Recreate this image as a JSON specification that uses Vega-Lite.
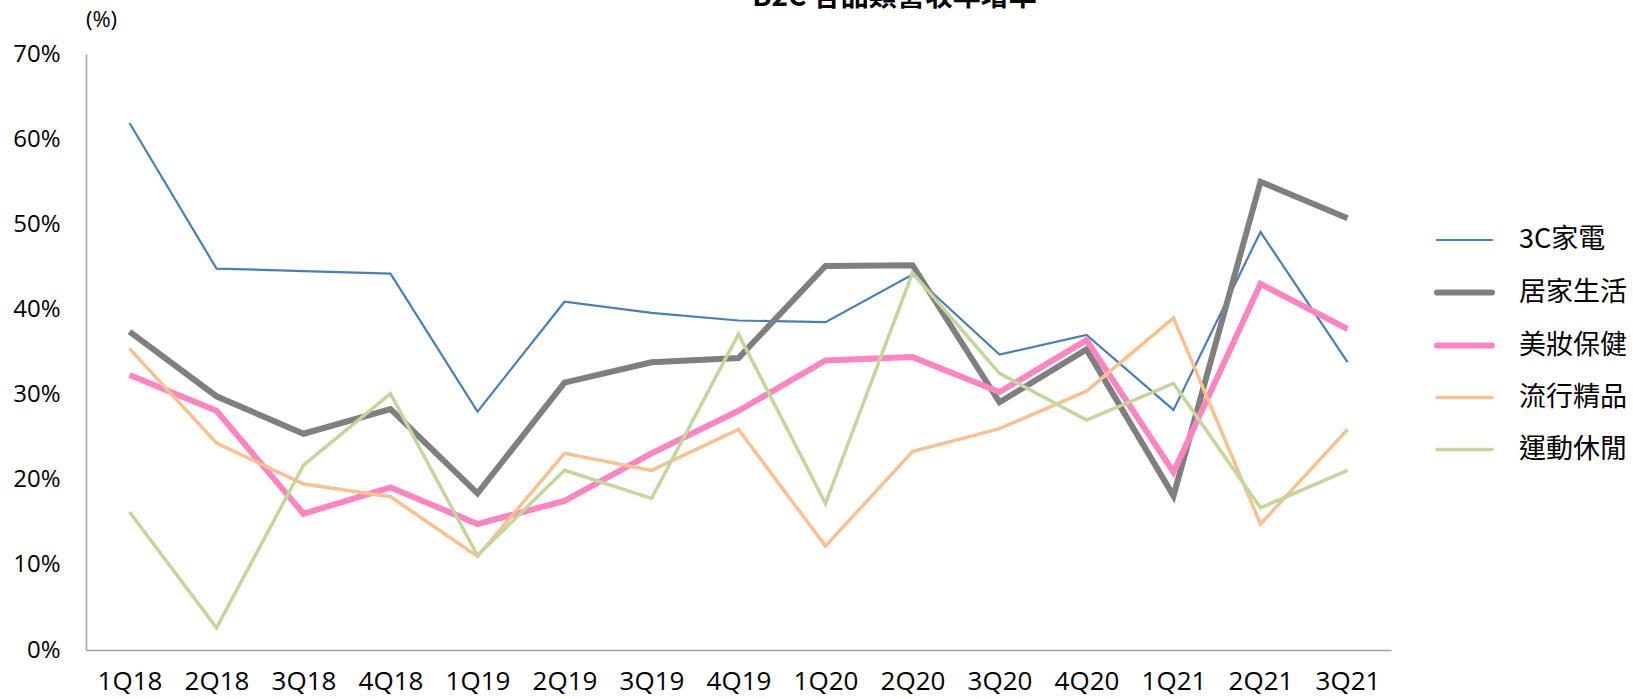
{
  "$schema": "https://vega.github.io/schema/vega-lite/v6.json",
  "autosize": {"type": "none"},
  "width": 1305,
  "height": 596,
  "padding": {"left": 86, "top": 54, "right": 242, "bottom": 49},
  "background": "white",
  "title": {
    "text": "B2C 各品類營收年增率",
    "font": "Noto Sans CJK TC",
    "fontSize": 28,
    "fontWeight": "bold",
    "color": "#000000",
    "anchor": "middle",
    "frame": "group",
    "baseline": "alphabetic",
    "offset": -26,
    "dx": 156
  },
  "config": {
    "view": {"stroke": null},
    "axis": {"grid": false, "ticks": false, "domainColor": "#A0A0A0", "domainWidth": 1.5, "labelColor": "#000000", "labelFont": "Open Sans"}
  },
  "data": {
    "values": [
      {"q": "1Q18", "s": "3C家電", "v": 61.9}, {"q": "2Q18", "s": "3C家電", "v": 44.8}, {"q": "3Q18", "s": "3C家電", "v": 44.5}, {"q": "4Q18", "s": "3C家電", "v": 44.2}, {"q": "1Q19", "s": "3C家電", "v": 28.0}, {"q": "2Q19", "s": "3C家電", "v": 40.9}, {"q": "3Q19", "s": "3C家電", "v": 39.6}, {"q": "4Q19", "s": "3C家電", "v": 38.7}, {"q": "1Q20", "s": "3C家電", "v": 38.5}, {"q": "2Q20", "s": "3C家電", "v": 44.1}, {"q": "3Q20", "s": "3C家電", "v": 34.7}, {"q": "4Q20", "s": "3C家電", "v": 37.0}, {"q": "1Q21", "s": "3C家電", "v": 28.2}, {"q": "2Q21", "s": "3C家電", "v": 49.1}, {"q": "3Q21", "s": "3C家電", "v": 33.8},
      {"q": "1Q18", "s": "居家生活", "v": 37.4}, {"q": "2Q18", "s": "居家生活", "v": 29.8}, {"q": "3Q18", "s": "居家生活", "v": 25.4}, {"q": "4Q18", "s": "居家生活", "v": 28.3}, {"q": "1Q19", "s": "居家生活", "v": 18.4}, {"q": "2Q19", "s": "居家生活", "v": 31.4}, {"q": "3Q19", "s": "居家生活", "v": 33.8}, {"q": "4Q19", "s": "居家生活", "v": 34.3}, {"q": "1Q20", "s": "居家生活", "v": 45.1}, {"q": "2Q20", "s": "居家生活", "v": 45.2}, {"q": "3Q20", "s": "居家生活", "v": 29.1}, {"q": "4Q20", "s": "居家生活", "v": 35.3}, {"q": "1Q21", "s": "居家生活", "v": 18.1}, {"q": "2Q21", "s": "居家生活", "v": 55.0}, {"q": "3Q21", "s": "居家生活", "v": 50.7},
      {"q": "1Q18", "s": "美妝保健", "v": 32.3}, {"q": "2Q18", "s": "美妝保健", "v": 28.1}, {"q": "3Q18", "s": "美妝保健", "v": 16.0}, {"q": "4Q18", "s": "美妝保健", "v": 19.1}, {"q": "1Q19", "s": "美妝保健", "v": 14.8}, {"q": "2Q19", "s": "美妝保健", "v": 17.5}, {"q": "3Q19", "s": "美妝保健", "v": 23.1}, {"q": "4Q19", "s": "美妝保健", "v": 28.1}, {"q": "1Q20", "s": "美妝保健", "v": 34.0}, {"q": "2Q20", "s": "美妝保健", "v": 34.4}, {"q": "3Q20", "s": "美妝保健", "v": 30.3}, {"q": "4Q20", "s": "美妝保健", "v": 36.4}, {"q": "1Q21", "s": "美妝保健", "v": 20.9}, {"q": "2Q21", "s": "美妝保健", "v": 43.0}, {"q": "3Q21", "s": "美妝保健", "v": 37.7},
      {"q": "1Q18", "s": "流行精品", "v": 35.4}, {"q": "2Q18", "s": "流行精品", "v": 24.3}, {"q": "3Q18", "s": "流行精品", "v": 19.5}, {"q": "4Q18", "s": "流行精品", "v": 18.0}, {"q": "1Q19", "s": "流行精品", "v": 11.0}, {"q": "2Q19", "s": "流行精品", "v": 23.1}, {"q": "3Q19", "s": "流行精品", "v": 21.1}, {"q": "4Q19", "s": "流行精品", "v": 25.9}, {"q": "1Q20", "s": "流行精品", "v": 12.2}, {"q": "2Q20", "s": "流行精品", "v": 23.3}, {"q": "3Q20", "s": "流行精品", "v": 26.0}, {"q": "4Q20", "s": "流行精品", "v": 30.4}, {"q": "1Q21", "s": "流行精品", "v": 39.0}, {"q": "2Q21", "s": "流行精品", "v": 14.8}, {"q": "3Q21", "s": "流行精品", "v": 25.9},
      {"q": "1Q18", "s": "運動休閒", "v": 16.2}, {"q": "2Q18", "s": "運動休閒", "v": 2.6}, {"q": "3Q18", "s": "運動休閒", "v": 21.7}, {"q": "4Q18", "s": "運動休閒", "v": 30.1}, {"q": "1Q19", "s": "運動休閒", "v": 11.1}, {"q": "2Q19", "s": "運動休閒", "v": 21.1}, {"q": "3Q19", "s": "運動休閒", "v": 17.8}, {"q": "4Q19", "s": "運動休閒", "v": 37.1}, {"q": "1Q20", "s": "運動休閒", "v": 17.2}, {"q": "2Q20", "s": "運動休閒", "v": 44.3}, {"q": "3Q20", "s": "運動休閒", "v": 32.5}, {"q": "4Q20", "s": "運動休閒", "v": 27.0}, {"q": "1Q21", "s": "運動休閒", "v": 31.3}, {"q": "2Q21", "s": "運動休閒", "v": 16.7}, {"q": "3Q21", "s": "運動休閒", "v": 21.1}
    ]
  },
  "mark": {"type": "line", "strokeCap": "butt", "strokeJoin": "miter"},
  "encoding": {
    "x": {
      "field": "q", "type": "ordinal", "sort": null,
      "scale": {"type": "point", "padding": 0.5},
      "axis": {"title": null, "labelAngle": 0, "labelFontSize": 26, "labelPadding": 18}
    },
    "y": {
      "field": "v", "type": "quantitative",
      "scale": {"domain": [0, 70], "nice": false, "zero": true},
      "axis": {
        "values": [0, 10, 20, 30, 40, 50, 60, 70],
        "labelExpr": "datum.value + '%'",
        "labelFontSize": 24, "labelPadding": 26,
        "title": "(%)", "titleAngle": 0, "titleX": 15, "titleY": -35,
        "titleAlign": "center", "titleBaseline": "middle",
        "titleFont": "Open Sans", "titleFontSize": 22, "titleFontWeight": "normal", "titleColor": "#000000"
      }
    },
    "color": {
      "field": "s", "type": "nominal",
      "scale": {
        "domain": ["3C家電", "居家生活", "美妝保健", "流行精品", "運動休閒"],
        "range": ["#4A7EBB", "#7F7F7F", "#FF85C0", "#FAC090", "#C3D69B"]
      },
      "legend": {
        "title": null, "orient": "none", "legendX": 1348, "legendY": 157,
        "symbolType": "stroke", "symbolSize": 3025,
        "labelFont": "Noto Sans CJK TC", "labelFontSize": 27, "labelColor": "#000000",
        "labelOffset": 24, "rowPadding": 9, "labelLimit": 300,
        "encode": {"symbols": {"update": {"strokeCap": {"value": "round"}}}}
      }
    },
    "strokeWidth": {
      "field": "s", "type": "nominal",
      "scale": {
        "type": "ordinal",
        "domain": ["3C家電", "居家生活", "美妝保健", "流行精品", "運動休閒"],
        "range": [2.2, 6, 6, 3.5, 3.5]
      }
    }
  }
}
